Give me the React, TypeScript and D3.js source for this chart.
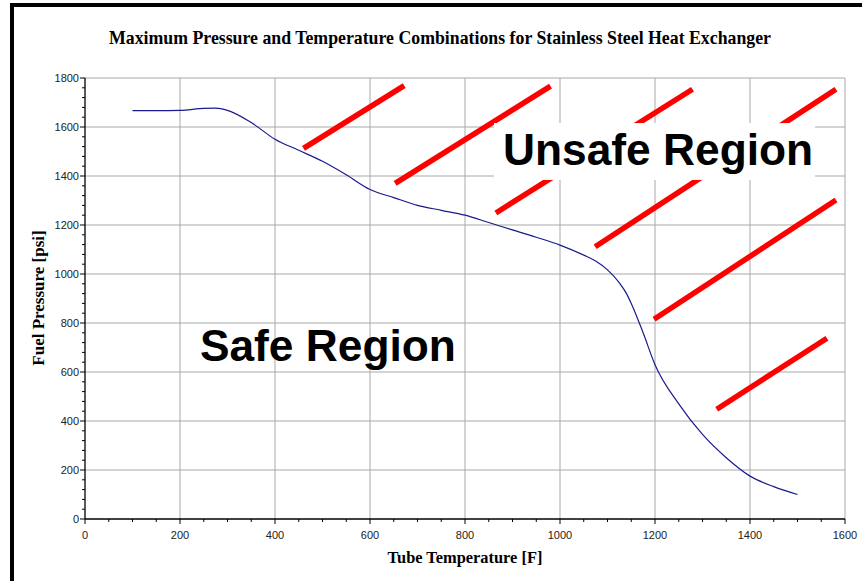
import React from "react";
import * as d3 from "d3";

const title = "Maximum Pressure and Temperature Combinations for Stainless Steel Heat Exchanger";
const xTitle = "Tube Temperature [F]";
const yTitle = "Fuel Pressure [psi]";

const xTicks = [0, 200, 400, 600, 800, 1000, 1200, 1400, 1600];
const yTicks = [0, 200, 400, 600, 800, 1000, 1200, 1400, 1600, 1800];

const temps = [100, 150, 200, 250, 275, 300, 350, 400, 450, 500, 550, 600, 650, 700, 750, 800, 850, 900, 950, 1000, 1050, 1075, 1100, 1125, 1140, 1150, 1175, 1200, 1250, 1300, 1350, 1400, 1450, 1500];
const pressures = [1667, 1667, 1668, 1676, 1677, 1668, 1618, 1550, 1505, 1460, 1405, 1345, 1312, 1280, 1260, 1240, 1210, 1180, 1150, 1118, 1077, 1053, 1017, 964, 920, 880, 760, 630, 470, 345, 250, 175, 132, 100];

// hatch lines marking the unsafe region
const hatchStartT = [460, 653, 865, 1074, 1198, 1330];
const hatchStartP = [1513, 1370, 1249, 1111, 815, 448];
const hatchEndT = [672, 980, 1279, 1581, 1581, 1562];
const hatchEndP = [1769, 1767, 1754, 1754, 1302, 738];

const safeLabel = { text: "Safe Region", t: 242, p: 645 };
const unsafeLabel = { text: "Unsafe Region", t: 880, p: 1445, boxT1: 861, boxT2: 1537, boxP1: 1616, boxP2: 1384 };

const W = 862, H = 581;
const left = 85, right = 845, top = 78, bottom = 519;

export default function App() {
  const x = d3.scaleLinear().domain([0, 1600]).range([left, right]);
  const y = d3.scaleLinear().domain([0, 1800]).range([bottom, top]);
  const line = d3.line<number>().x((_, i) => x(temps[i])).y((_, i) => y(pressures[i])).curve(d3.curveMonotoneX);
  const xMinor = d3.range(0, 1601, 50).filter((v) => v % 200 !== 0);
  const yMinor = d3.range(0, 1801, 40).filter((v) => v % 200 !== 0);
  const grid = "#a8a8a8";
  const sans = "'Liberation Sans', Arial, Helvetica, sans-serif";
  const serif = "'Liberation Serif', 'Times New Roman', serif";
  return (
    <svg width={W} height={H} style={{ position: "absolute", left: 0, top: 0, background: "#fff" }}>
      <rect x={0} y={0} width={W} height={H} fill="#fff" />
      {/* outer frame */}
      <line x1={12} y1={3} x2={12} y2={H} stroke="#000" strokeWidth={4} />
      <line x1={10} y1={5} x2={W} y2={5} stroke="#000" strokeWidth={4} />
      {/* gridlines */}
      {xTicks.filter((v) => v > 0).map((v) => (
        <line key={"gx" + v} x1={x(v)} x2={x(v)} y1={top} y2={bottom} stroke={grid} strokeWidth={1} />
      ))}
      {yTicks.filter((v) => v > 0).map((v) => (
        <line key={"gy" + v} x1={left} x2={right} y1={y(v)} y2={y(v)} stroke={grid} strokeWidth={1} />
      ))}
      {/* hatch lines */}
      {hatchStartT.map((t, i) => (
        <line key={"h" + i} x1={x(t)} y1={y(hatchStartP[i])} x2={x(hatchEndT[i])} y2={y(hatchEndP[i])} stroke="#ff0000" strokeWidth={5.5} />
      ))}
      {/* curve */}
      <path d={line(temps) || ""} fill="none" stroke="#1a1a8c" strokeWidth={1.2} />
      {/* unsafe label box */}
      <rect x={x(unsafeLabel.boxT1)} y={y(unsafeLabel.boxP1)} width={x(unsafeLabel.boxT2) - x(unsafeLabel.boxT1)} height={y(unsafeLabel.boxP2) - y(unsafeLabel.boxP1)} fill="#fff" />
      <text x={x(unsafeLabel.t)} y={y(unsafeLabel.p)} fontFamily={sans} fontWeight="bold" fontSize={44.3} fill="#000">{unsafeLabel.text}</text>
      <text x={x(safeLabel.t)} y={y(safeLabel.p)} fontFamily={sans} fontWeight="bold" fontSize={44.3} fill="#000">{safeLabel.text}</text>
      {/* axes */}
      <line x1={left} x2={left} y1={top} y2={bottom} stroke="#000" strokeWidth={1.3} />
      <line x1={left} x2={right} y1={bottom} y2={bottom} stroke="#000" strokeWidth={1.3} />
      {yTicks.map((v) => (
        <g key={"yt" + v}>
          <line x1={left - 5} x2={left} y1={y(v)} y2={y(v)} stroke="#000" />
          <text x={left - 6} y={y(v) + 4} textAnchor="end" fontFamily={sans} fontSize={11} fill="#222">{v}</text>
        </g>
      ))}
      {yMinor.map((v) => (
        <line key={"ym" + v} x1={left - 3} x2={left} y1={y(v)} y2={y(v)} stroke="#000" />
      ))}
      {xTicks.map((v) => (
        <g key={"xt" + v}>
          <line x1={x(v)} x2={x(v)} y1={bottom} y2={bottom + 5} stroke="#000" />
          <text x={x(v)} y={bottom + 20} textAnchor="middle" fontFamily={sans} fontSize={11} fill="#222">{v}</text>
        </g>
      ))}
      {xMinor.map((v) => (
        <line key={"xm" + v} x1={x(v)} x2={x(v)} y1={bottom} y2={bottom + 3} stroke="#000" />
      ))}
      {/* titles */}
      <text x={440} y={44} textAnchor="middle" fontFamily={serif} fontWeight="bold" fontSize={17.8} fill="#000">{title}</text>
      <text x={465} y={563} textAnchor="middle" fontFamily={serif} fontWeight="bold" fontSize={16.4} fill="#000">{xTitle}</text>
      <text transform={`translate(44,298) rotate(-90)`} textAnchor="middle" fontFamily={serif} fontWeight="bold" fontSize={17} fill="#000">{yTitle}</text>
    </svg>
  );
}
